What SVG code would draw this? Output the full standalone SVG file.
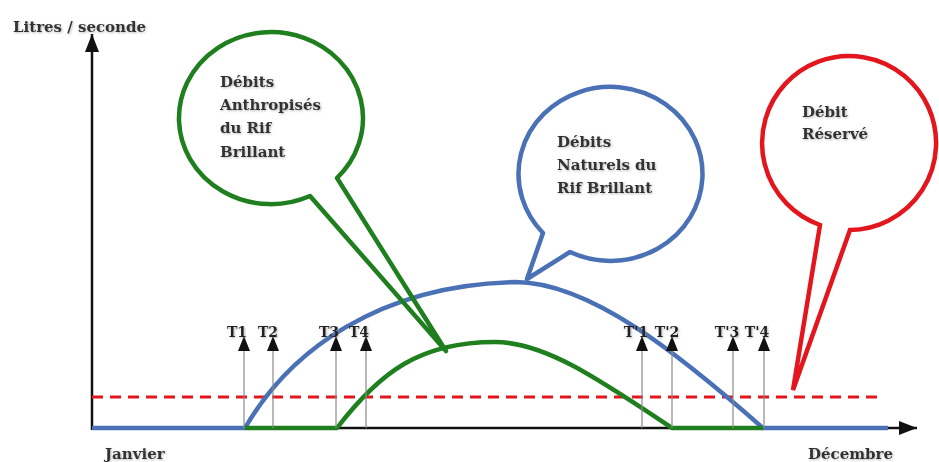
<svg xmlns="http://www.w3.org/2000/svg" width="939" height="462" viewBox="0 0 939 462">
  <style>
    .lbl { font-family: "DejaVu Serif", "Liberation Serif", serif; font-weight: bold; font-size: 15px; fill: #333; }
    .tl { font-family: "DejaVu Serif", "Liberation Serif", serif; font-weight: bold; font-size: 14px; fill: #222; text-anchor: middle; }
    .axis { stroke: #111; stroke-width: 2.5; fill: none; }
    .tick { stroke: #8a8a8a; stroke-width: 1.2; fill: none; }
    .blue { stroke: #4a71b6; stroke-width: 4.5; fill: none; stroke-linejoin: round; }
    .green { stroke: #1f7f1f; stroke-width: 4.5; fill: none; stroke-linejoin: round; }
    .red { stroke: #e3161d; stroke-width: 4.5; fill: none; stroke-linejoin: miter; }
    .dash { stroke: #e3161d; stroke-width: 3; stroke-dasharray: 11 7; fill: none; }
  </style>
  <defs>
    <filter id="sh" x="-10%" y="-30%" width="120%" height="160%">
      <feDropShadow dx="1" dy="1" stdDeviation="1" flood-color="#888" flood-opacity="0.6"/>
    </filter>
    <marker id="ah" viewBox="0 0 10 10" refX="10" refY="5" markerWidth="6" markerHeight="6" markerUnits="userSpaceOnUse" orient="auto">
      <path d="M0,0 L10,5 L0,10 Z" fill="#111"/>
    </marker>
    <marker id="big" viewBox="0 0 10 10" refX="10" refY="5" markerWidth="18" markerHeight="14" markerUnits="userSpaceOnUse" orient="auto" preserveAspectRatio="none">
      <path d="M0,0 L10,5 L0,10 Z" fill="#111"/>
    </marker>
    <marker id="tip" viewBox="0 0 10 10" refX="10" refY="5" markerWidth="15" markerHeight="12" markerUnits="userSpaceOnUse" orient="auto" preserveAspectRatio="none">
      <path d="M0,0 L10,5 L0,10 Z" fill="#111"/>
    </marker>
  </defs>

  <g id="axes">
    <line class="axis" x1="92" y1="430" x2="92" y2="34" marker-end="url(#big)"/>
    <line class="axis" x1="91" y1="428" x2="917" y2="428" marker-end="url(#big)"/>
    <text class="lbl" x="13" y="32" filter="url(#sh)">Litres / seconde</text>
    <text class="lbl" x="105" y="459" filter="url(#sh)">Janvier</text>
    <text class="lbl" x="808" y="459" filter="url(#sh)">Décembre</text>
  </g>

  <g id="debit-reserve-line">
    <line class="dash" x1="92" y1="397" x2="880" y2="397"/>
  </g>

  <g id="curves">
    <path class="blue" d="M92,428 L245,428 C290,350 380,285 515,282 C590,282 680,355 763,428 L888,428"/>
    <path class="green" d="M245,428 L337,428 C380,372 420,342 495,342 C545,342 600,380 672,428 L763,428"/>
  </g>

  <g id="ticks">
    <line class="tick" x1="244" y1="428" x2="244" y2="336" marker-end="url(#tip)"/>
    <line class="tick" x1="273" y1="428" x2="273" y2="336" marker-end="url(#tip)"/>
    <line class="tick" x1="336" y1="428" x2="336" y2="336" marker-end="url(#tip)"/>
    <line class="tick" x1="366" y1="428" x2="366" y2="336" marker-end="url(#tip)"/>
    <line class="tick" x1="642" y1="428" x2="642" y2="336" marker-end="url(#tip)"/>
    <line class="tick" x1="672" y1="428" x2="672" y2="336" marker-end="url(#tip)"/>
    <line class="tick" x1="733" y1="428" x2="733" y2="336" marker-end="url(#tip)"/>
    <line class="tick" x1="764" y1="428" x2="764" y2="336" marker-end="url(#tip)"/>
    <text class="tl" x="237" y="337" filter="url(#sh)">T1</text>
    <text class="tl" x="268" y="337" filter="url(#sh)">T2</text>
    <text class="tl" x="329" y="337" filter="url(#sh)">T3</text>
    <text class="tl" x="359" y="337" filter="url(#sh)">T4</text>
    <text class="tl" x="636" y="337" filter="url(#sh)">T'1</text>
    <text class="tl" x="667" y="337" filter="url(#sh)">T'2</text>
    <text class="tl" x="727" y="337" filter="url(#sh)">T'3</text>
    <text class="tl" x="757" y="337" filter="url(#sh)">T'4</text>
  </g>

  <g id="bulle-anthropises">
    <path class="green" d="M310,196 L446,351 L337,178 A92,86 0 1 0 310,196 Z"/>
    <text class="lbl" filter="url(#sh)"><tspan x="220" y="87">Débits</tspan><tspan x="220" y="110">Anthropisés</tspan><tspan x="220" y="133">du Rif</tspan><tspan x="220" y="157">Brillant</tspan></text>
  </g>

  <g id="bulle-naturels">
    <path class="blue" d="M543,233 L527,279 L570,252 A92,87 0 1 0 543,233 Z"/>
    <text class="lbl" filter="url(#sh)"><tspan x="557" y="147">Débits</tspan><tspan x="557" y="170">Naturels du</tspan><tspan x="557" y="193">Rif Brillant</tspan></text>
  </g>

  <g id="bulle-reserve">
    <path class="red" d="M820,225 L793,390 L850,230 A87,87 0 1 0 820,225 Z"/>
    <text class="lbl" filter="url(#sh)"><tspan x="802" y="117">Débit</tspan><tspan x="802" y="139">Réservé</tspan></text>
  </g>
</svg>
